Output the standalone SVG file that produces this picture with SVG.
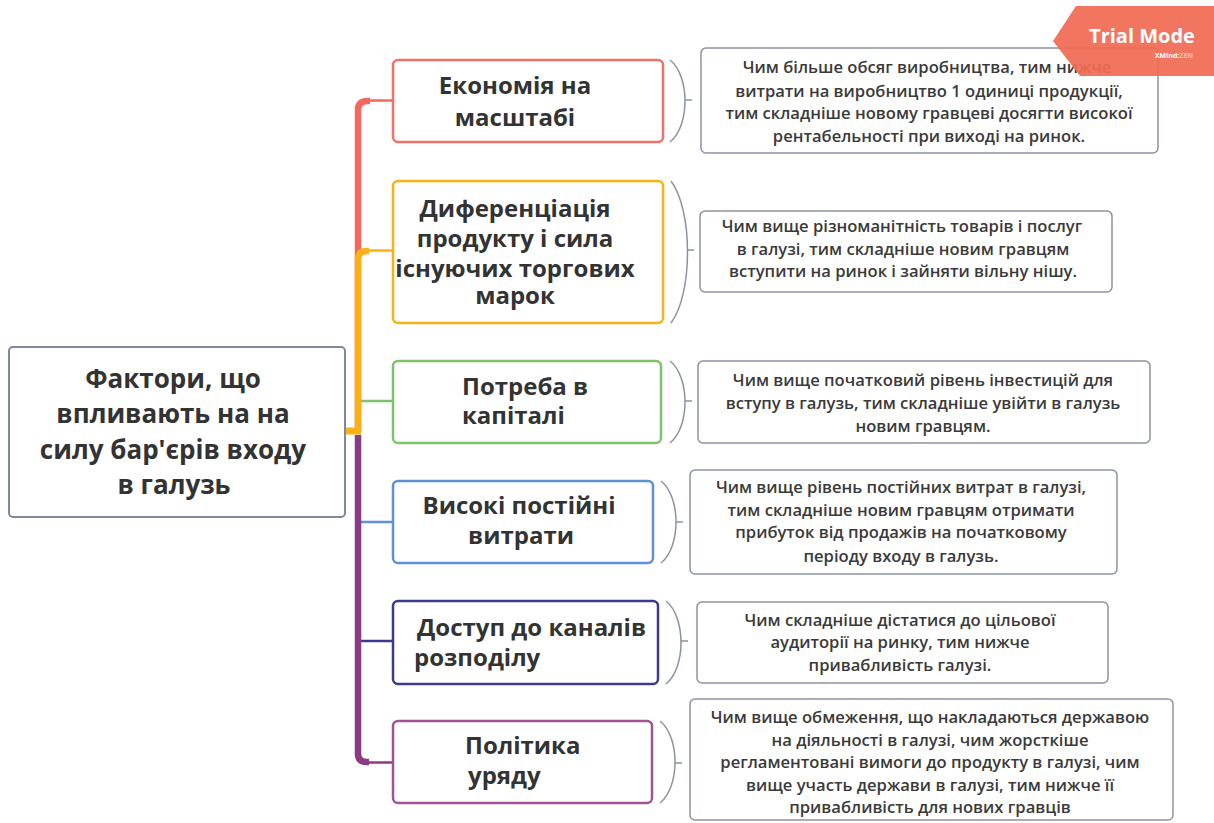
<svg xmlns="http://www.w3.org/2000/svg" width="1214" height="823" viewBox="0 0 1214 823">
  <style>
    .root-box { fill: #ffffff; stroke: #7d8a99; stroke-width: 2; }
    .topic-box { fill: #ffffff; stroke-width: 2.5; }
    .note-box { fill: #ffffff; stroke: #8b93a3; stroke-width: 1.5; }
    .root-text { font-family: "Open Sans", "Liberation Sans", sans-serif; font-weight: 700; font-size: 26px; fill: #333333; text-anchor: middle; }
    .topic-text { font-family: "Open Sans", "Liberation Sans", sans-serif; font-weight: 700; font-size: 24px; fill: #333333; }
    .note-text { font-family: "Open Sans", "Liberation Sans", sans-serif; font-weight: 600; font-size: 16.6px; fill: #3a3a3a; text-anchor: middle; }
    .brace { fill: none; stroke: #8b93a3; stroke-width: 1.5; }
    .spine { fill: none; stroke-width: 6.5; stroke-linecap: butt; }
    .branch { fill: none; stroke-width: 2.5; }
  </style>

  <rect width="1214" height="823" fill="#ffffff"/>

  <!-- connectors -->
  <g id="connectors">
    <!-- upper branches -->
    <path class="spine" stroke="#f4675c" d="M358,432 V110 Q358,101 368,101 H370"/>
    <path class="branch" stroke="#f4675c" d="M368,100.5 H393"/>
    <path class="spine" stroke="#fbb116" d="M358,432 V259 Q358,251 367,251 H369"/>
    <path class="branch" stroke="#fbb116" d="M367,250.5 H393"/>
    <path class="branch" stroke="#7dc36b" d="M361,401 H393"/>
    <!-- root stub -->
    <path d="M345,431 H361" stroke="#fbb116" stroke-width="7" fill="none"/>
    <!-- lower branches -->
    <path class="branch" stroke="#5c90d8" d="M361,522 H393"/>
    <path class="branch" stroke="#3c3a8c" d="M361,641 H393"/>
    <path class="spine" stroke="#8b3a84" d="M358,435 V754 Q358,762 367,762 H369"/>
    <path class="branch" stroke="#8b3a84" d="M367,762.5 H393"/>

    <!-- braces linking topics to notes -->
    <path class="brace" d="M670,60 C690,76 690,126 670,142 M685,100 H692"/>
    <path class="brace" d="M671,181 C693,210 693,294 671,323 M687,250 H694"/>
    <path class="brace" d="M670,361 C690,377 690,427 670,443 M685,401 H692"/>
    <path class="brace" d="M661,481 C681,497 681,547 661,563 M676,522 H683"/>
    <path class="brace" d="M666,601 C686,617 686,668 666,684 M681,641 H688"/>
    <path class="brace" d="M660,721 C680,737 680,787 660,803 M675,763 H682"/>
  </g>

  <!-- central topic -->
  <g id="root">
    <rect class="root-box" x="9" y="347" width="336" height="170" rx="4"/>
    <text class="root-text" x="173" y="388">Фактори, що</text>
    <text class="root-text" x="173" y="423">впливають на на</text>
    <text class="root-text" x="173" y="459">силу бар'єрів входу</text>
    <text class="root-text" x="174" y="494">в галузь</text>
  </g>

  <g id="topic-scale">
    <rect class="topic-box" stroke="#f27069" x="393" y="60" width="270" height="82" rx="5"/>
    <text class="topic-text" x="515" y="94" text-anchor="middle">Економія на</text>
    <text class="topic-text" x="515" y="126" text-anchor="middle">масштабі</text>
  </g>

  <g id="topic-differentiation">
    <rect class="topic-box" stroke="#fbb116" x="393" y="181" width="270" height="142" rx="5"/>
    <text class="topic-text" x="515" y="217" text-anchor="middle">Диференціація</text>
    <text class="topic-text" x="515" y="247" text-anchor="middle">продукту і сила</text>
    <text class="topic-text" x="515" y="277" text-anchor="middle">існуючих торгових</text>
    <text class="topic-text" x="515" y="304" text-anchor="middle">марок</text>
  </g>

  <g id="topic-capital">
    <rect class="topic-box" stroke="#7dc36b" x="393" y="361" width="268" height="82" rx="5"/>
    <text class="topic-text" x="462" y="395">Потреба в</text>
    <text class="topic-text" x="462" y="424">капіталі</text>
  </g>

  <g id="topic-fixed-costs">
    <rect class="topic-box" stroke="#5c90d8" x="393" y="481" width="260" height="82" rx="5"/>
    <text class="topic-text" x="519" y="514" text-anchor="middle">Високі постійні</text>
    <text class="topic-text" x="521" y="544" text-anchor="middle">витрати</text>
  </g>

  <g id="topic-distribution">
    <rect class="topic-box" stroke="#3c3a8c" x="393" y="601" width="265" height="83" rx="5"/>
    <text class="topic-text" x="417" y="636">Доступ до каналів</text>
    <text class="topic-text" x="414" y="666">розподілу</text>
  </g>

  <g id="topic-government">
    <rect class="topic-box" stroke="#a05495" x="393" y="721" width="259" height="82" rx="5"/>
    <text class="topic-text" x="465" y="754">Політика</text>
    <text class="topic-text" x="468" y="784">уряду</text>
  </g>

  <g id="note-scale">
    <rect class="note-box" x="701" y="48" width="457" height="105" rx="5"/>
    <text class="note-text" x="927" y="73">Чим більше обсяг виробництва, тим нижче</text>
    <text class="note-text" x="929" y="97">витрати на виробництво 1 одиниці продукції,</text>
    <text class="note-text" x="929" y="119">тим складніше новому гравцеві досягти високої</text>
    <text class="note-text" x="929" y="142">рентабельності при виході на ринок.</text>
  </g>

  <g id="note-differentiation">
    <rect class="note-box" x="700" y="211" width="412" height="81" rx="5"/>
    <text class="note-text" x="902" y="232">Чим вище різноманітність товарів і послуг</text>
    <text class="note-text" x="903" y="255">в галузі, тим складніше новим гравцям</text>
    <text class="note-text" x="903" y="277">вступити на ринок і зайняти вільну нішу.</text>
  </g>

  <g id="note-capital">
    <rect class="note-box" x="698" y="361" width="452" height="82" rx="5"/>
    <text class="note-text" x="923" y="386">Чим вище початковий рівень інвестицій для</text>
    <text class="note-text" x="923" y="409">вступу в галузь, тим складніше увійти в галузь</text>
    <text class="note-text" x="923" y="432">новим гравцям.</text>
  </g>

  <g id="note-fixed-costs">
    <rect class="note-box" x="690" y="470" width="427" height="104" rx="5"/>
    <text class="note-text" x="901" y="493">Чим вище рівень постійних витрат в галузі,</text>
    <text class="note-text" x="901" y="516">тим складніше новим гравцям отримати</text>
    <text class="note-text" x="901" y="538">прибуток від продажів на початковому</text>
    <text class="note-text" x="901" y="562">періоду входу в галузь.</text>
  </g>

  <g id="note-distribution">
    <rect class="note-box" x="697" y="602" width="411" height="81" rx="5"/>
    <text class="note-text" x="900" y="626">Чим складніше дістатися до цільової</text>
    <text class="note-text" x="900" y="648">аудиторії на ринку, тим нижче</text>
    <text class="note-text" x="900" y="671">привабливість галузі.</text>
  </g>

  <g id="note-government">
    <rect class="note-box" x="690" y="699" width="483" height="121" rx="5"/>
    <text class="note-text" x="930" y="723">Чим вище обмеження, що накладаються державою</text>
    <text class="note-text" x="930" y="746">на діяльності в галузі, чим жорсткіше</text>
    <text class="note-text" x="930" y="768">регламентовані вимоги до продукту в галузі, чим</text>
    <text class="note-text" x="930" y="791">вище участь держави в галузі, тим нижче її</text>
    <text class="note-text" x="930" y="813">привабливість для нових гравців</text>
  </g>

  <!-- edition badge -->
  <g id="badge" opacity="0.93">
    <polygon points="1076,6 1214,6 1214,76 1080,76 1053,41" fill="#f26b55"/>
    <text x="1142" y="43" font-family="Open Sans, Liberation Sans, sans-serif" font-weight="700" font-size="20" fill="#ffffff" text-anchor="middle">Trial Mode</text>
    <text x="1193" y="58" font-family="Open Sans, Liberation Sans, sans-serif" font-weight="700" font-size="7" fill="#ffffff" text-anchor="end">XMind:<tspan fill-opacity="0.55">ZEN</tspan></text>
  </g>
</svg>
